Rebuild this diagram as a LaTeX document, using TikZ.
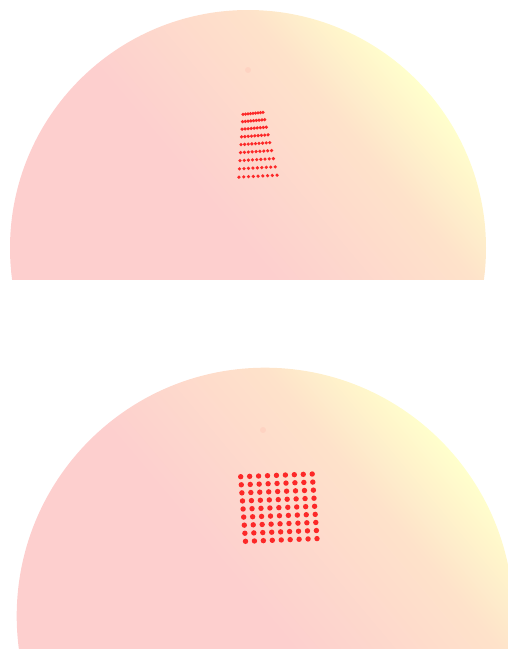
\documentclass[tikz,border=0pt]{standalone}
\definecolor{domepink}{RGB}{253,207,206}
\definecolor{domepeach}{RGB}{254,226,202}
\definecolor{domeyellow}{RGB}{255,255,204}
\definecolor{dotred}{RGB}{252,40,40}
\pgfdeclarehorizontalshading{domeshading}{100bp}{color(0bp)=(domepink); color(50bp)=(domepink); color(66bp)=(domepeach); color(75bp)=(domeyellow); color(100bp)=(domeyellow)}
\begin{document}
\begin{tikzpicture}[
  x=1pt,
  y=-1pt,
  dome/.style={shading=domeshading,shading angle=40},
  dot/.style={fill=dotred},
  speck/.style={fill=red!60!domepink,opacity=0.07}
]
  \useasboundingbox (0,0) rectangle (508,649);

  % upper view: tilted grid
  \begin{scope}
    \clip (0,0) rectangle (508,279);
    \shade[dome] (248,248) circle (238);
  \end{scope}
  \fill[speck] (248,70) circle (3);
  \foreach \i in {0,...,8}{
    \pgfmathsetmacro\rowy{113.3+7.3*\i+0.07*\i*\i}
    \pgfmathsetmacro\rowf{(\rowy-113.3)/62.4}
    \pgfmathsetmacro\rowl{243-4*\rowf}
    \pgfmathsetmacro\rowr{263+14*\rowf}
    \foreach \j in {0,...,8}
      \fill[dot] ({\rowl+(\rowr-\rowl)*\j/8},{\rowy+1-2*\j/8}) circle (1.8);
  }

  % lower view: flat grid
  \begin{scope}
    \clip (0,300) rectangle (508,649);
    \shade[dome] (265,616) circle (248.3);
  \end{scope}
  \fill[speck] (263,430) circle (3);
  \foreach \i in {0,...,8}
    \foreach \j in {0,...,8}
      \fill[dot] ({240.7+71.5*\j/8+4.8*\i/8},{476.7-2.7*\j/8+64.6*\i/8}) circle (2.7);
\end{tikzpicture}
\end{document}
